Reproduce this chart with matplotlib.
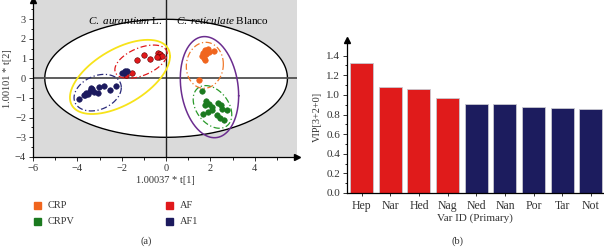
import numpy as np
import matplotlib
matplotlib.use("Agg")
import matplotlib.pyplot as plt
from matplotlib.patches import Rectangle

plt.rcParams['font.family'] = ['Liberation Serif', 'DejaVu Serif']
plt.rcParams['mathtext.fontset'] = 'custom'
plt.rcParams['mathtext.rm'] = 'Liberation Serif'
plt.rcParams['mathtext.it'] = 'Liberation Serif:italic'

# ---------------- data: score plot ----------------
crp_x = [1.75, 1.87, 1.67, 1.82, 1.72, 1.93, 2.17, 1.75, 1.47, 1.63]
crp_y = [1.44, 1.49, 1.27, 1.22, 1.05, 1.35, 1.39, 0.93, -0.09, 1.15]
crpv_x = [1.60, 1.82, 1.75, 1.93, 2.05, 1.87, 1.67, 2.36, 2.48, 2.51, 2.74, 2.28, 2.43, 2.59, 2.05]
crpv_y = [-0.65, -1.15, -1.36, -1.32, -1.44, -1.70, -1.83, -1.27, -1.36, -1.56, -1.61, -1.87, -2.03, -2.12, -1.61]
af_x = [-1.29, -0.99, -0.72, -0.38, -0.26, -0.30, -0.20, -0.42, -1.79, -1.52]
af_y = [0.93, 1.18, 0.98, 1.27, 1.24, 1.10, 1.15, 1.10, 0.17, 0.25]
af1_x = [-1.98, -1.87, -1.78, -1.90, -3.91, -3.72, -3.60, -3.44, -3.34, -3.65, -3.54,
         -3.27, -3.09, -3.04, -2.81, -2.54, -2.28, -3.39]
af1_y = [0.29, 0.39, 0.36, 0.29, -1.07, -0.85, -0.73, -0.63, -0.56, -0.85, -0.80,
         -0.68, -0.73, -0.43, -0.39, -0.59, -0.39, -0.51]
group_names = ['CRP', 'CRPV', 'AF', 'AF1']

# ellipses: (cx, cy, sx, sy, rho)
ell_t2 = (0.0, 0.0, 5.47, 3.0, 0.0)
ell_yellow = (-2.08, 0.07, 2.255, 1.885, 0.557)
ell_af = (-1.13, 0.845, 1.18, 0.845, 0.48)
ell_af1 = (-3.085, -0.73, 1.065, 0.93, 0.28)
ell_purple = (1.955, -0.45, 1.315, 2.57, -0.17)
ell_crp = (1.745, 0.66, 0.835, 1.17, 0.05)
ell_crpv = (2.09, -1.455, 0.87, 1.085, -0.36)

# ---------------- data: VIP ----------------
vip_names = ['Hep', 'Nar', 'Hed', 'Nag', 'Ned', 'Nan', 'Por', 'Tar', 'Not']
vip_values = [1.33, 1.08, 1.065, 0.966, 0.91, 0.905, 0.875, 0.864, 0.86]

c_orange = '#f0651e'
c_green = '#1b7a1f'
c_red = '#e0191b'
c_navy = '#1c1a5e'
c_bar_red = '#e01b1b'
c_bar_navy = '#1c1c5e'
txt = '#333333'


def ellipse_pts(p, n=300):
    cx, cy, sx, sy, r = p
    M = np.array([[sx * sx, r * sx * sy], [r * sx * sy, sy * sy]])
    L = np.linalg.cholesky(M)
    t = np.linspace(0, 2 * np.pi, n)
    pts = L @ np.vstack([np.cos(t), np.sin(t)])
    return cx + pts[0], cy + pts[1]


W, H = 604, 248
fig = plt.figure(figsize=(W / 100, H / 100), dpi=100)

# ---------------- left panel ----------------
ax = fig.add_axes([33 / W, 1 - 157 / H, (297 - 33) / W, 157 / H])
ax.set_facecolor('#dadada')
ax.set_xlim(-6, 5.9)
ax.set_ylim(-4, 3.98)

ex, ey = ellipse_pts(ell_t2)
ax.fill(ex, ey, color='white', zorder=1)
ax.plot(ex, ey, color='black', lw=1.0, zorder=2)
ax.axhline(0, color='#505050', lw=1.3, zorder=2)
ax.axvline(0, color='#202020', lw=1.0, zorder=2)

for p, col, ls, lw in [(ell_yellow, '#f7e31a', '-', 1.3),
                       (ell_purple, '#6b2d8f', '-', 1.1),
                       (ell_af, '#e0191b', (0, (5, 2, 1, 2)), 0.9),
                       (ell_af1, '#2a2a7a', (0, (5, 2, 1, 2)), 0.9),
                       (ell_crp, '#f0782a', (0, (5, 2, 1, 2)), 0.9),
                       (ell_crpv, '#2a9a2a', (0, (5, 2, 1, 2)), 0.9)]:
    x, y = ellipse_pts(p)
    ax.plot(x, y, color=col, ls=ls, lw=lw, zorder=3)

for xs, ys, col in [(crp_x, crp_y, c_orange), (crpv_x, crpv_y, c_green),
                    (af_x, af_y, c_red), (af1_x, af1_y, c_navy)]:
    ax.scatter(xs, ys, s=16, color=col, edgecolors='#600000' if col == c_red else col,
               linewidths=0.4, zorder=4)

ax.text(-0.15, 2.95, r'$\it{C.\ aurantium}$ L.', ha='right', va='center', fontsize=8, zorder=5)
ax.text(0.45, 2.95, r'$\it{C.\ reticulate}$ Blanco', ha='left', va='center', fontsize=8, zorder=5)

for s in ['top', 'right']:
    ax.spines[s].set_visible(False)
for s in ['left', 'bottom']:
    ax.spines[s].set_linewidth(0.9)
ax.set_xticks([-6, -4, -2, 0, 2, 4])
ax.set_xticks(np.arange(-5, 6, 1), minor=True)
ax.set_yticks(np.arange(-4, 4, 1))
ax.set_yticks(np.arange(-3.5, 3.9, 0.5), minor=True)
ax.tick_params(labelsize=7.5, length=3, width=0.7, pad=2, colors=txt)
ax.tick_params(which='minor', length=1.8, width=0.6)
ax.set_xlabel('1.00037 * t[1]', fontsize=7.5, labelpad=2, color=txt)
ax.set_ylabel('1.00101 * t[2]', fontsize=7.5, labelpad=2, color=txt)
ax.plot(1, 0, marker='>', color='black', ms=4, transform=ax.transAxes, clip_on=False, zorder=6)
ax.plot(0, 1, marker='^', color='black', ms=4, transform=ax.transAxes, clip_on=False, zorder=6)

# legend
leg_pos = [(37, 205.7), (37, 221), (169, 205.7), (169, 221)]
leg_cols = [c_orange, c_green, c_red, c_navy]
for (px, py), col, name in zip(leg_pos, leg_cols, group_names):
    fig.add_artist(Rectangle(((px - 3.5) / W, 1 - (py + 3.5) / H), 7 / W, 7 / H,
                             transform=fig.transFigure, color=col))
    fig.text((px + 11) / W, 1 - py / H, name, fontsize=7.5, va='center', ha='left', color=txt)
fig.text(146 / W, 1 - 241.5 / H, '(a)', fontsize=7.5, ha='center', va='center', color=txt)

# ---------------- right panel ----------------
ax2 = fig.add_axes([347 / W, 1 - 193 / H, (603 - 347) / W, (193 - 40) / H])
xs = np.arange(len(vip_names))
cols = [c_bar_red if v > 0.95 else c_bar_navy for v in vip_values]
ax2.bar(xs, vip_values, width=0.8, color=cols, edgecolor='#c8c8d0', linewidth=0.6)
ax2.set_xlim(-0.51, 8.42)
ax2.set_ylim(0, 1.56)
ax2.set_xticks(xs)
ax2.set_xticklabels(vip_names)
ax2.set_yticks(np.arange(0, 1.41, 0.2))
ax2.set_yticklabels(['%.1f' % v for v in np.arange(0, 1.41, 0.2)])
ax2.set_yticks(np.arange(0.1, 1.5, 0.1), minor=True)
for s in ['top', 'right']:
    ax2.spines[s].set_visible(False)
for s in ['left', 'bottom']:
    ax2.spines[s].set_linewidth(0.9)
ax2.tick_params(labelsize=8, length=3, width=0.7, pad=2, colors=txt)
ax2.tick_params(axis='x', length=2, pad=3, labelsize=8.5)
ax2.tick_params(which='minor', length=1.8, width=0.6)
ax2.set_xlabel('Var ID (Primary)', fontsize=8, labelpad=1, color=txt)
ax2.set_ylabel('VIP[3+2+0]', fontsize=7.5, labelpad=3, color=txt)
ax2.plot(0, 1, marker='^', color='black', ms=4, transform=ax2.transAxes, clip_on=False)
fig.text(458 / W, 1 - 241.5 / H, '(b)', fontsize=7.5, ha='center', va='center', color=txt)

fig.savefig('out.png', dpi=100)
